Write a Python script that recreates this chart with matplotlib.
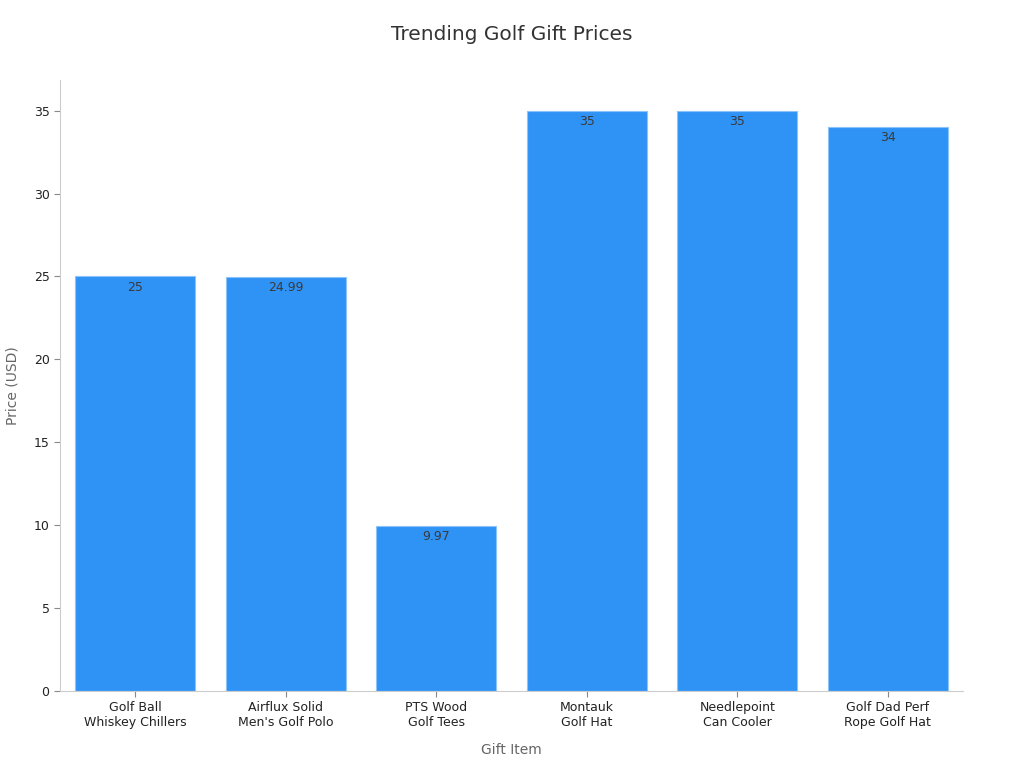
import matplotlib
matplotlib.use("Agg")
import matplotlib.pyplot as plt

categories = ["Golf Ball\nWhiskey Chillers", "Airflux Solid\nMen's Golf Polo", "PTS Wood\nGolf Tees",
              "Montauk\nGolf Hat", "Needlepoint\nCan Cooler", "Golf Dad Perf\nRope Golf Hat"]
prices = [25, 24.99, 9.97, 35, 35, 34]
price_labels = ["25", "24.99", "9.97", "35", "35", "34"]

fig = plt.figure(figsize=(10.24, 7.68), dpi=100)
ax = fig.add_axes([0.0586, 0.1003, 0.8818, 0.7955])
x = list(range(len(categories)))
bars = ax.bar(x, prices, width=0.8, color="#2f93f6", edgecolor="#8cc4fa", linewidth=0.8)
for xi, v, lab in zip(x, prices, price_labels):
    ax.annotate(lab, (xi, v), xytext=(0, -3), textcoords="offset points",
                ha="center", va="top", fontsize=9, color="#3a3a3a")

ax.set_xlim(-0.5, 5.5)
ax.set_ylim(0, 36.85)
ax.set_yticks([0, 5, 10, 15, 20, 25, 30, 35])
ax.set_xticks(x)
ax.set_xticklabels(categories, fontsize=9, color="#222222")
ax.tick_params(axis="y", labelsize=9, labelcolor="#222222", color="#888888", length=4)
ax.tick_params(axis="x", color="#888888", length=4)
for s in ["top", "right"]:
    ax.spines[s].set_visible(False)
for s in ["left", "bottom"]:
    ax.spines[s].set_color("#cccccc")
ax.set_xlabel("Gift Item", fontsize=10, color="#666666", labelpad=10)
ax.set_ylabel("Price (USD)", fontsize=10, color="#666666", labelpad=10)
fig.suptitle("Trending Golf Gift Prices", fontsize=14.5, color="#333333", x=0.5, y=0.968)
fig.savefig("out.png", dpi=100)
